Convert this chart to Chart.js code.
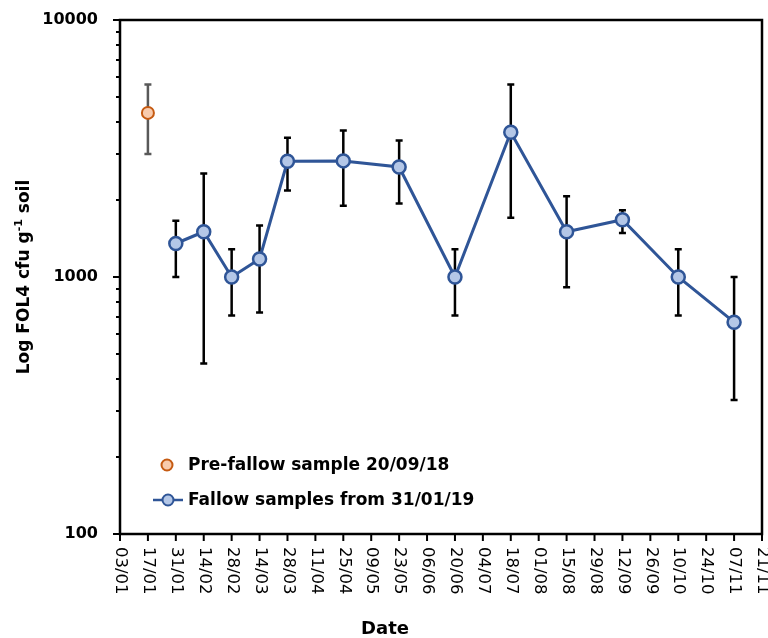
<!DOCTYPE html>
<html>
<head>
<meta charset="utf-8">
<style>
  html, body { margin: 0; padding: 0; background: #ffffff; }
  #wrap { width: 768px; height: 638px; }
</style>
<script src="https://cdn.jsdelivr.net/npm/chart.js@4/dist/chart.umd.min.js"></script>
</head>
<body>
<div id="wrap"><canvas id="chart" width="768" height="638"></canvas></div>
<script>
// Fortnightly date axis, 03/01 to 21/11
const dateLabels = ['03/01','17/01','31/01','14/02','28/02','14/03','28/03','11/04','25/04','09/05','23/05','06/06',
                    '20/06','04/07','18/07','01/08','15/08','29/08','12/09','26/09','10/10','24/10','07/11','21/11'];

// Pre-fallow sample (20/09/18), plotted at the start of the series
const preDates = ['17/01'];
const preMean  = [4350];
const preLow   = [3010];
const preHigh  = [5610];

// Fallow samples from 31/01/19
const fallowDates = ['31/01','14/02','28/02','14/03','28/03','25/04','23/05','20/06','18/07','15/08','12/09','10/10','07/11'];
const fallowMean  = [1350, 1500, 1000, 1175, 2820, 2830, 2680, 1000, 3660, 1500, 1670, 1000, 667];
const fallowLow   = [1000,  461,  708,  727, 2170, 1895, 1930,  708, 1700,  913, 1483,  708, 332];
const fallowHigh  = [1656, 2525, 1281, 1588, 3480, 3715, 3400, 1281, 5610, 2060, 1817, 1281, 1000];

const yTickValues = [100, 1000, 10000];

const BLUE = '#2f5597', BLUE_FILL = '#b4c7e7';
const ORANGE = '#c55a11', ORANGE_FILL = '#f8cbad';

const toPoints = (dates, vals) => dates.map((d, i) => ({ x: d, y: vals[i] }));

// Error bars drawn underneath the markers
const errorBars = {
  id: 'errorBars',
  beforeDatasetsDraw(chart) {
    const ctx = chart.ctx, y = chart.scales.y;
    chart.data.datasets.forEach((ds, di) => {
      const meta = chart.getDatasetMeta(di);
      ctx.save();
      ctx.strokeStyle = ds.errorColor;
      ctx.lineWidth = 2.5;
      meta.data.forEach((pt, i) => {
        const x = pt.x;
        const yl = y.getPixelForValue(ds.errorLow[i]);
        const yh = y.getPixelForValue(ds.errorHigh[i]);
        ctx.beginPath();
        ctx.moveTo(x, yl); ctx.lineTo(x, yh);
        ctx.moveTo(x - 3.5, yl); ctx.lineTo(x + 3.5, yl);
        ctx.moveTo(x - 3.5, yh); ctx.lineTo(x + 3.5, yh);
        ctx.stroke();
      });
      ctx.restore();
    });
  }
};

// Frame, tick marks, rotated date labels, axis titles and legend
const decorations = {
  id: 'decorations',
  afterDraw(chart) {
    const ctx = chart.ctx, a = chart.chartArea;
    const xs = chart.scales.x, ys = chart.scales.y;
    ctx.save();
    ctx.strokeStyle = '#000';
    ctx.lineWidth = 2.5;
    ctx.strokeRect(a.left, a.top, a.right - a.left, a.bottom - a.top);

    // y ticks: decades long, intermediate values short
    ctx.lineWidth = 2;
    ctx.beginPath();
    for (let e = 100; e < 10000; e *= 10) {
      for (let m = 1; m < 10; m++) {
        const py = Math.round(ys.getPixelForValue(m * e));
        const len = m === 1 ? 7 : 4;
        ctx.moveTo(a.left - len, py); ctx.lineTo(a.left, py);
      }
    }
    const pTop = ys.getPixelForValue(10000);
    ctx.moveTo(a.left - 7, pTop); ctx.lineTo(a.left, pTop);
    // x ticks
    dateLabels.forEach((lab, i) => {
      const px = xs.getPixelForValue(i);
      ctx.moveTo(px, a.bottom); ctx.lineTo(px, a.bottom + 7);
    });
    ctx.stroke();

    // date labels, reading top to bottom
    ctx.fillStyle = '#000';
    ctx.font = '16.5px "DejaVu Sans"';
    ctx.textAlign = 'left';
    ctx.textBaseline = 'middle';
    dateLabels.forEach((lab, i) => {
      const px = xs.getPixelForValue(i);
      ctx.save();
      ctx.translate(px + 0.5, a.bottom + 13);
      ctx.rotate(Math.PI / 2);
      ctx.fillText(lab, 0, 0);
      ctx.restore();
    });

    // x title
    ctx.font = 'bold 18px "DejaVu Sans"';
    ctx.textAlign = 'center';
    ctx.fillText('Date', 385, 629);

    // y title with superscript exponent
    ctx.save();
    ctx.translate(25, (a.top + a.bottom) / 2);
    ctx.rotate(-Math.PI / 2);
    const big = 'bold 17px "DejaVu Sans"', small = 'bold 11px "DejaVu Sans"';
    const parts = [['Log FOL4 cfu g', big, 0], ['-1', small, -6], [' soil', big, 0]];
    let total = 0;
    parts.forEach(p => { ctx.font = p[1]; total += ctx.measureText(p[0]).width; });
    let cx = -total / 2;
    ctx.textAlign = 'left';
    parts.forEach(p => { ctx.font = p[1]; ctx.fillText(p[0], cx, p[2]); cx += ctx.measureText(p[0]).width; });
    ctx.restore();

    // legend
    const pre = chart.data.datasets[0], fal = chart.data.datasets[1];
    ctx.lineWidth = 2;
    ctx.beginPath();
    ctx.arc(167, 465, 5.5, 0, Math.PI * 2);
    ctx.fillStyle = pre.backgroundColor; ctx.fill();
    ctx.strokeStyle = pre.borderColor; ctx.stroke();

    ctx.beginPath();
    ctx.moveTo(153, 500); ctx.lineTo(183, 500);
    ctx.strokeStyle = fal.borderColor; ctx.lineWidth = 2.5; ctx.stroke();
    ctx.beginPath();
    ctx.arc(168, 500, 5.5, 0, Math.PI * 2);
    ctx.fillStyle = fal.pointBackgroundColor; ctx.fill();
    ctx.lineWidth = 2; ctx.strokeStyle = fal.borderColor; ctx.stroke();

    ctx.fillStyle = '#000';
    ctx.font = 'bold 17px "DejaVu Sans"';
    ctx.textAlign = 'left';
    ctx.fillText(pre.label, 188, 466);
    ctx.fillText(fal.label, 188, 501);
    ctx.restore();
  }
};

new Chart(document.getElementById('chart'), {
  type: 'line',
  data: {
    labels: dateLabels,
    datasets: [
      {
        label: 'Pre-fallow sample 20/09/18',
        data: toPoints(preDates, preMean),
        errorLow: preLow, errorHigh: preHigh, errorColor: '#595959',
        showLine: false,
        borderColor: ORANGE, backgroundColor: ORANGE_FILL,
        pointBackgroundColor: ORANGE_FILL, pointBorderColor: ORANGE,
        pointRadius: 6, pointBorderWidth: 2
      },
      {
        label: 'Fallow samples from 31/01/19',
        data: toPoints(fallowDates, fallowMean),
        errorLow: fallowLow, errorHigh: fallowHigh, errorColor: '#000000',
        borderColor: BLUE, borderWidth: 3, backgroundColor: BLUE_FILL,
        pointBackgroundColor: BLUE_FILL, pointBorderColor: BLUE,
        pointRadius: 6.5, pointBorderWidth: 2.5, tension: 0
      }
    ]
  },
  options: {
    responsive: false,
    animation: false,
    layout: { autoPadding: false, padding: { left: 42, top: 20, right: 6, bottom: 0 } },
    plugins: { legend: { display: false }, tooltip: { enabled: false } },
    scales: {
      x: {
        type: 'category',
        offset: false,
        grid: { display: false, drawTicks: false },
        border: { display: false },
        ticks: { display: false, padding: 0 },
        afterFit: s => { s.height = 104; s.paddingLeft = 0; s.paddingRight = 0; }
      },
      y: {
        type: 'logarithmic',
        min: 100, max: 10000,
        grid: { display: false, drawTicks: false },
        border: { display: false },
        afterBuildTicks: s => { s.ticks = yTickValues.map(v => ({ value: v })); },
        afterFit: s => { s.width = 78; s.paddingTop = 0; s.paddingBottom = 0; },
        ticks: {
          color: '#000',
          padding: 22,
          font: { family: 'DejaVu Sans', size: 16, weight: 'bold' },
          callback: v => String(v)
        }
      }
    }
  },
  plugins: [errorBars, decorations]
});
</script>
</body>
</html>
